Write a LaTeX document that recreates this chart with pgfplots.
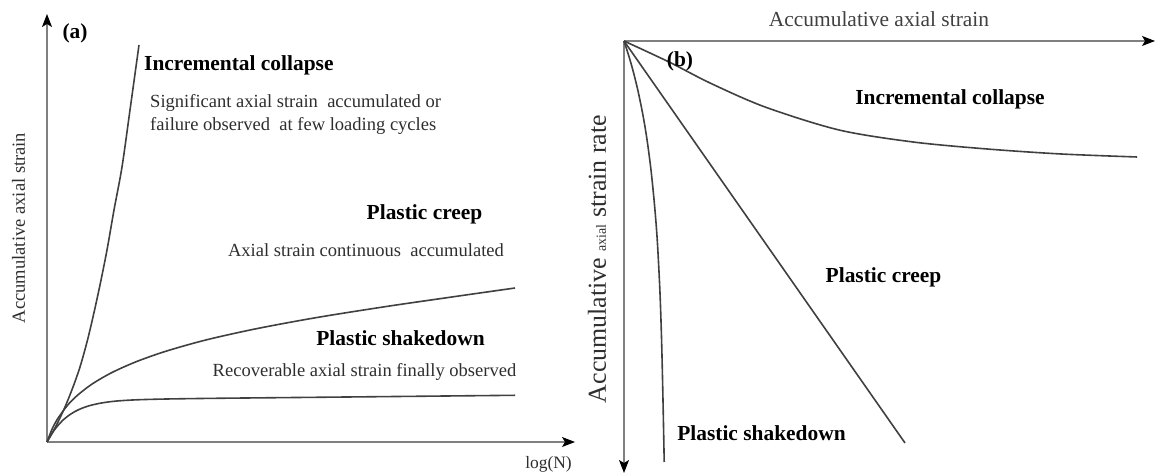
\documentclass[border=0pt]{standalone}
\usepackage{pgfplots}
\pgfplotsset{compat=1.18}
\usetikzlibrary{arrows.meta}
\usepackage{fontspec}
\setmainfont{Liberation Serif}
\newcommand{\bt}[1]{{\fontsize{21.5}{24}\selectfont\bfseries #1}}
\newcommand{\rt}[1]{{\fontsize{18.6}{21}\selectfont #1}}
\begin{document}
\begin{tikzpicture}[x=1bp,y=1bp]
\path[use as bounding box] (0,0) rectangle (1157,474);
% ---------------- panel (a)
\begin{axis}[at={(47bp,32bp)}, anchor=south west, scale only axis,
  width=528bp, height=428bp, xmin=0, xmax=528, ymin=0, ymax=428,
  axis x line*=bottom, axis y line*=left, xtick=\empty, ytick=\empty, clip=false,
  axis line style={draw=black!50, line width=1.2bp},
  x axis line style={-{Stealth[length=13bp,width=10bp,inset=3bp,color=black]}},
  y axis line style={-{Stealth[length=13bp,width=10bp,inset=3bp,color=black]}}]
% Incremental collapse
\addplot[smooth, draw=black!75, line width=1.6bp] coordinates {
 (0,0) (9,16) (18,35) (26,55) (33,75) (40,100) (46,125) (53,157) (60,192) (67,232) (75,275) (83,332) (92,397)};
% Plastic creep
\addplot[smooth, draw=black!75, line width=1.6bp] coordinates {
 (0,0) (5,12.7) (10,22.2) (20,36.1) (30,46.3) (45,57.9) (65,69.5) (90,80.6) (120,91.1)
 (160,102.3) (210,113.4) (270,124.5) (340,135.6) (400,144.3) (468,154)};
% Plastic shakedown
\addplot[smooth, draw=black!75, line width=1.6bp] coordinates {
 (0,0) (5,8.6) (10,15.4) (16,21.9) (24,28.1) (32,32.5) (42,36.2) (55,39.1) (70,41.0)
 (90,42.2) (120,43.0) (170,43.7) (250,44.5) (350,45.5) (468,46.7)};
\end{axis}
% ---------------- panel (b)
\begin{axis}[at={(624bp,1bp)}, anchor=south west, scale only axis,
  width=531bp, height=432bp, xmin=0, xmax=531, ymin=-432, ymax=0,
  axis x line*=top, axis y line*=left, xtick=\empty, ytick=\empty, clip=false,
  axis line style={draw=black!50, line width=1.2bp},
  x axis line style={-{Stealth[length=13bp,width=10bp,inset=3bp,color=black]}},
  y axis line style={{Stealth[length=13bp,width=10bp,inset=3bp,color=black]}-}]
% Incremental collapse
\addplot[smooth, draw=black!75, line width=1.6bp] coordinates {
 (0,0) (45,-21) (86,-42) (141,-66) (215,-89) (289,-101) (363,-108) (437,-113) (513,-116)};
% Plastic creep
\addplot[draw=black!75, line width=1.6bp] coordinates {(0,0) (281,-402)};
% Plastic shakedown
\addplot[smooth, draw=black!75, line width=1.6bp] coordinates {
 (0,0) (4.8,-15) (9.1,-30) (14.0,-50) (19.1,-75) (23.2,-100) (27.1,-130) (30.6,-165)
 (33.3,-200) (35.9,-250) (37.6,-300) (39.0,-360) (40.2,-421)};
\end{axis}
% ---------------- texts (a)
\node[inner sep=0] at (75,441) {\bt{(a)}};
\node[inner sep=0, anchor=west] at (144,409) {\bt{Incremental collapse}};
\node[inner sep=0, anchor=west, text=black!82] at (150,371) {\rt{Significant axial strain\ \ accumulated or}};
\node[inner sep=0, anchor=west, text=black!82] at (150,348) {\rt{failure observed\ \ at few loading cycles}};
\node[inner sep=0] at (424.5,260) {\bt{Plastic creep}};
\node[inner sep=0, text=black!82] at (366,224) {\rt{Axial strain continuous\ \ accumulated}};
\node[inner sep=0] at (400.5,136) {\bt{Plastic shakedown}};
\node[inner sep=0, text=black!82] at (364.5,102) {\rt{Recoverable axial strain finally observed}};
\node[inner sep=0, text=black!82] at (548.5,10) {{\fontsize{17.5}{20}\selectfont log(N)}};
\node[inner sep=0, rotate=90, text=black!82] at (18.5,246) {\rt{Accumulative axial strain}};
% ---------------- texts (b)
\node[inner sep=0, text=black!75] at (879,455) {{\fontsize{21.5}{24}\selectfont Accumulative axial strain}};
\node[inner sep=0] at (680,413) {\bt{(b)}};
\node[inner sep=0] at (950,375) {\bt{Incremental collapse}};
\node[inner sep=0] at (883.5,197) {\bt{Plastic creep}};
\node[inner sep=0] at (761.5,41) {\bt{Plastic shakedown}};
\node[inner sep=0, rotate=90, text=black!82] at (597,215) {{\fontsize{26}{28}\selectfont Accumulative {\fontsize{14}{16}\selectfont axial} strain rate}};
\end{tikzpicture}
\end{document}
